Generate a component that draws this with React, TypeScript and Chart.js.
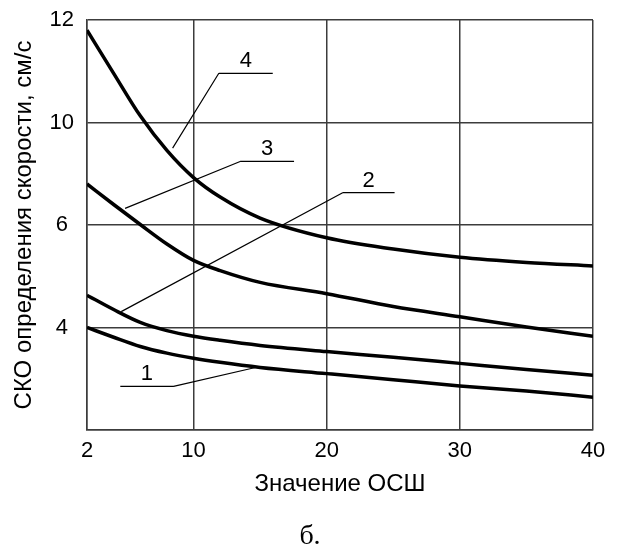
import React, { useEffect, useRef } from 'react';
import { Chart, registerables } from 'chart.js';

Chart.register(...registerables);

// SNR values (x) where the curves were read
const snrValues = [2, 4, 6, 8, 10, 12, 15, 20, 25, 30, 35, 40];
// RMS error of velocity, cm/s, for curves 1..4
const curve1 = [4.0, 3.81, 3.63, 3.5, 3.4, 3.32, 3.22, 3.1, 2.98, 2.86, 2.76, 2.64];
const curve2 = [4.63, 4.35, 4.1, 3.94, 3.83, 3.75, 3.65, 3.53, 3.42, 3.3, 3.18, 3.07];
const curve3 = [7.6, 6.8, 6.02, 5.63, 5.31, 5.11, 4.88, 4.66, 4.41, 4.21, 4.01, 3.83];
const curve4 = [11.8, 10.96, 10.13, 8.91, 7.85, 7.09, 6.27, 5.75, 5.53, 5.37, 5.27, 5.2];
const seriesNames = ['1', '2', '3', '4'];

// axis ticks
const xTickValues = [2, 10, 20, 30, 40];
const yBreakValues = [2, 4, 6, 10, 12];
const yTickLabels = ['', '4', '6', '10', '12'];

// labels with leader lines (data units)
const annLabels = ['1', '2', '3', '4'];
const annLineStartX = [4.5, 21.2, 13.5, 11.9];
const annLineEndX = [8.5, 25.1, 17.55, 15.95];
const annLineY = [2.85, 7.26, 8.48, 10.96];
const annTargetX = [14.65, 4.57, 4.86, 8.43];
const annTargetY = [3.22, 4.31, 6.65, 9.0];
const annLeaderFromEnd = [true, false, false, false];

const xTitle = 'Значение ОСШ';
const yTitle = 'СКО определения скорости, см/с';
const caption = 'б.';

// the value axis is drawn with equally spaced, non-uniform gridlines
function toAxisPos(v: number): number {
  for (let i = 0; i < yBreakValues.length - 1; i++) {
    const a = yBreakValues[i];
    const b = yBreakValues[i + 1];
    if (v <= b || i === yBreakValues.length - 2) {
      return i + (v - a) / (b - a);
    }
  }
  return 0;
}

const SANS = '"Liberation Sans", Arial, sans-serif';
const GRID = '#3c3c3c';

export default function App() {
  const canvasRef = useRef<HTMLCanvasElement | null>(null);

  useEffect(() => {
    const canvas = canvasRef.current;
    if (!canvas) return;

    const leaderPlugin = {
      id: 'leaders',
      afterDatasetsDraw(chart: any) {
        const { ctx } = chart;
        const xs = chart.scales.x;
        const ys = chart.scales.y;
        ctx.save();
        ctx.strokeStyle = '#000';
        ctx.fillStyle = '#000';
        ctx.lineWidth = 1.2;
        ctx.font = `22px ${SANS}`;
        ctx.textAlign = 'center';
        ctx.textBaseline = 'alphabetic';
        for (let i = 0; i < annLabels.length; i++) {
          const x1 = xs.getPixelForValue(annLineStartX[i]);
          const x2 = xs.getPixelForValue(annLineEndX[i]);
          const yl = ys.getPixelForValue(toAxisPos(annLineY[i]));
          const tx = xs.getPixelForValue(annTargetX[i]);
          const ty = ys.getPixelForValue(toAxisPos(annTargetY[i]));
          const fx = annLeaderFromEnd[i] ? x2 : x1;
          ctx.beginPath();
          ctx.moveTo(x1, yl);
          ctx.lineTo(x2, yl);
          ctx.moveTo(fx, yl);
          ctx.lineTo(tx, ty);
          ctx.stroke();
          ctx.fillText(annLabels[i], (x1 + x2) / 2, yl - 6);
        }
        ctx.restore();
      },
    };

    const curves = [curve1, curve2, curve3, curve4];
    const chart = new Chart(canvas, {
      type: 'line',
      data: {
        datasets: curves.map((c, i) => ({
          label: seriesNames[i],
          data: snrValues.map((x, j) => ({ x, y: toAxisPos(c[j]) })),
          borderColor: '#000',
          borderWidth: 3.5,
          pointRadius: 0,
          fill: false,
          cubicInterpolationMode: 'monotone' as const,
        })),
      },
      options: {
        animation: false,
        responsive: false,
        maintainAspectRatio: false,
        devicePixelRatio: 1,
        layout: { padding: { left: 0, top: 20, right: 27, bottom: 0 } },
        plugins: {
          legend: { display: false },
          tooltip: { enabled: false },
        },
        scales: {
          x: {
            type: 'linear',
            min: 2,
            max: 40,
            afterBuildTicks: (s: any) => {
              s.ticks = xTickValues.map((v) => ({ value: v }));
            },
            afterFit: (s: any) => {
              s.height = 120;
              s.paddingLeft = 0;
              s.paddingRight = 0;
            },
            ticks: {
              color: '#000',
              font: { family: SANS, size: 22 },
              padding: 8,
              maxRotation: 0,
              autoSkip: false,
            },
            grid: { color: GRID, lineWidth: 1.5, drawTicks: false },
            border: { color: GRID, width: 1.5 },
            title: {
              display: true,
              text: xTitle,
              color: '#000',
              font: { family: SANS, size: 24 },
              padding: { top: 0, bottom: 51 },
            },
          },
          y: {
            type: 'linear',
            min: 0,
            max: 4,
            afterFit: (s: any) => {
              s.width = 87;
              s.paddingTop = 0;
              s.paddingBottom = 0;
            },
            ticks: {
              stepSize: 1,
              color: '#000',
              font: { family: SANS, size: 22 },
              padding: 13,
              crossAlign: 'center',
              callback: (v: any) => yTickLabels[Math.round(Number(v))] ?? '',
            },
            grid: { color: GRID, lineWidth: 1.5, drawTicks: false },
            border: { color: GRID, width: 1.5 },
            title: {
              display: true,
              text: yTitle,
              color: '#000',
              font: { family: SANS, size: 24 },
              padding: { top: 10, bottom: 0 },
            },
          },
        },
      },
      plugins: [leaderPlugin],
    });

    return () => chart.destroy();
  }, []);

  return (
    <div style={{ position: 'absolute', left: 0, top: 0, width: 620, height: 550, background: '#fff' }}>
      <canvas ref={canvasRef} width={620} height={550} style={{ display: 'block' }} />
      <div
        style={{
          position: 'absolute',
          left: 0,
          top: 521,
          width: 620,
          textAlign: 'center',
          fontFamily: '"Liberation Serif", "Times New Roman", serif',
          fontSize: 28,
          lineHeight: '28px',
          color: '#000',
        }}
      >
        {caption}
      </div>
    </div>
  );
}
